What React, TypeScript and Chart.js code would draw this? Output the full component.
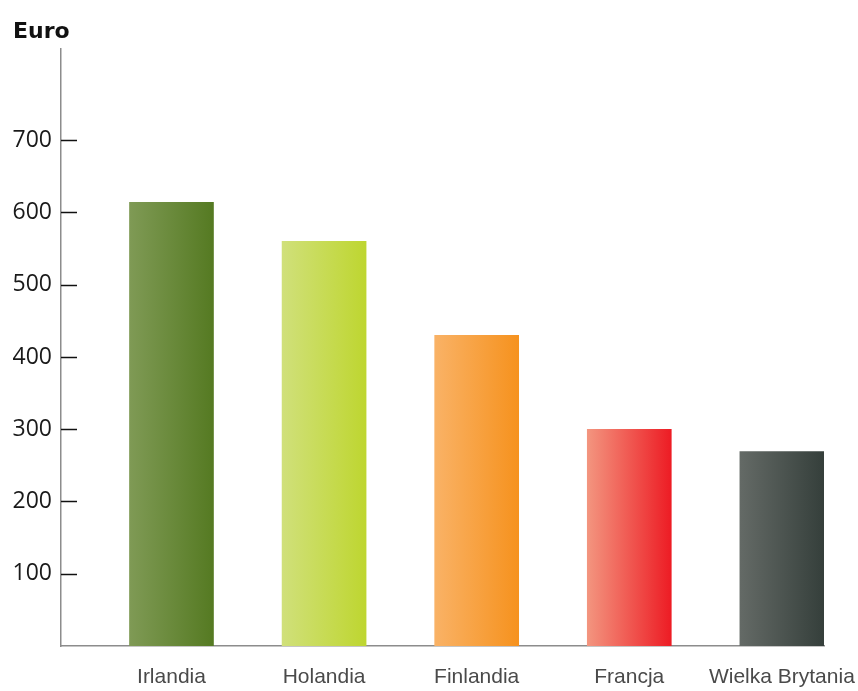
import React, { useEffect, useRef } from "react";
import { Chart, registerables } from "chart.js";

Chart.register(...registerables);

const categories = ["Irlandia", "Holandia", "Finlandia", "Francja", "Wielka Brytania"];
const values = [614, 560, 430, 300, 269];
const yTickValues = [100, 200, 300, 400, 500, 600, 700];
const colorsLeft = ["#7f9a55", "#d0e07a", "#f9b266", "#f3957f", "#646a66"];
const colorsRight = ["#557a22", "#bed630", "#f6921e", "#ed1c24", "#353f3b"];
const yTitle = "Euro";

const tickMarks = {
  id: "tickMarks",
  afterDatasetsDraw(chart: any) {
    const y = chart.scales.y;
    const ctx = chart.ctx;
    ctx.save();
    ctx.strokeStyle = "#111";
    ctx.lineWidth = 1.5;
    for (const t of y.ticks) {
      const py = Math.round(y.getPixelForValue(t.value)) + 0.5;
      ctx.beginPath();
      ctx.moveTo(y.right, py);
      ctx.lineTo(y.right + 16, py);
      ctx.stroke();
    }
    ctx.restore();
  },
};

export default function App() {
  const ref = useRef<HTMLCanvasElement>(null);
  useEffect(() => {
    const canvas = ref.current!;
    const chart = new Chart(canvas, {
      type: "bar",
      data: {
        datasets: [
          {
            data: values.map((v, i) => ({ x: i, y: v })),
            barThickness: 84,
            borderWidth: 0,
            backgroundColor: (c: any) => {
              const chart = c.chart;
              const xs = chart.scales?.x;
              const i = c.dataIndex ?? 0;
              if (!xs || c.type !== "data") return colorsRight[i] || "#888";
              const cx = xs.getPixelForValue(i);
              if (!isFinite(cx)) return colorsRight[i];
              const g = chart.ctx.createLinearGradient(cx - 42, 0, cx + 42, 0);
              g.addColorStop(0, colorsLeft[i]);
              g.addColorStop(1, colorsRight[i]);
              return g;
            },
          },
        ],
      },
      options: {
        animation: false,
        responsive: false,
        layout: { padding: { left: 13, right: 34, top: 0, bottom: 0 } },
        plugins: {
          legend: { display: false },
          tooltip: { enabled: false },
          title: {
            display: true,
            text: yTitle,
            align: "start",
            color: "#111",
            font: { family: "DejaVu Sans", weight: "bold", size: 22 },
            padding: { top: 19, bottom: 3 },
          },
        },
        scales: {
          x: {
            type: "linear",
            offset: false,
            min: -0.724,
            max: 4.276,
            grid: { display: false, drawTicks: false, offset: false },
            border: { display: true, color: "#8c8c8c", width: 1.5 },
            afterBuildTicks: (s: any) => {
              s.ticks = categories.map((_, i) => ({ value: i }));
            },
            afterFit: (s: any) => {
              s.height = 45;
              s.paddingLeft = 0;
              s.paddingRight = 0;
            },
            ticks: {
              autoSkip: false,
              maxRotation: 0,
              padding: 19,
              color: "#4a4a4a",
              font: { family: "Liberation Sans", size: 21 },
              callback: (v: any) => categories[v as number] ?? "",
            },
          },
          y: {
            min: 0,
            max: 827,
            grid: { display: false, drawTicks: false },
            border: { display: true, color: "#8c8c8c", width: 1.5 },
            afterBuildTicks: (s: any) => {
              s.ticks = yTickValues.map((v) => ({ value: v }));
            },
            afterFit: (s: any) => {
              s.width = 48;
            },
            ticks: {
              padding: 9,
              color: "#1a1a1a",
              font: { family: "Open Sans", size: 23 },
            },
          },
        },
      },
      plugins: [tickMarks],
    } as any);
    return () => chart.destroy();
  }, []);
  return (
    <canvas
      ref={ref}
      width={858}
      height={691}
      style={{ position: "absolute", left: 0, top: 0, display: "block", width: 858, height: 691 }}
    />
  );
}
